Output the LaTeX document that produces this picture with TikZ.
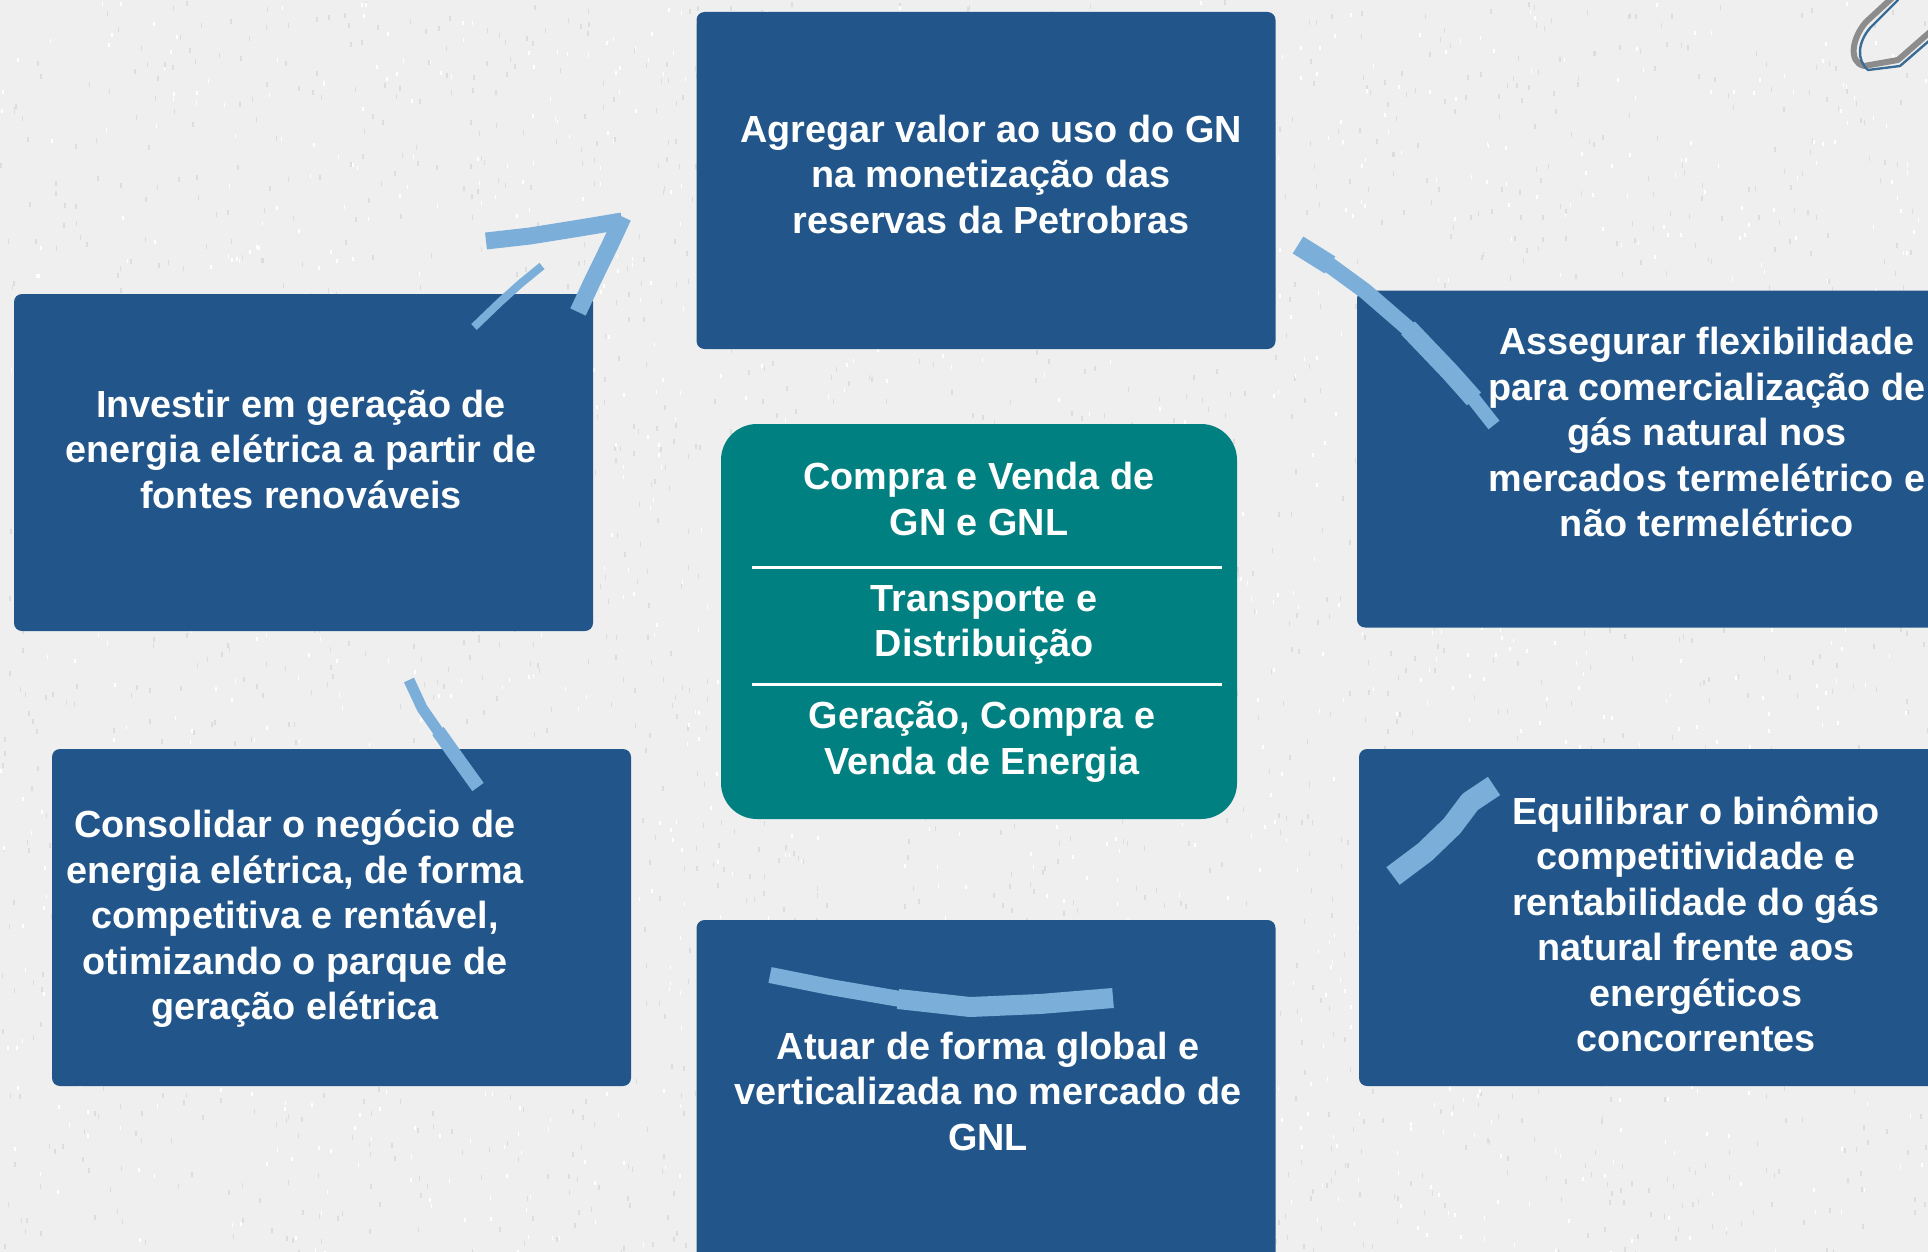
\documentclass[tikz,border=0pt]{standalone}
\usepackage{fontspec}
\setmainfont{Liberation Sans}
\definecolor{boxblue}{HTML}{22568A}
\definecolor{tealbox}{HTML}{008080}
\definecolor{brushcol}{HTML}{7BAFD9}
\definecolor{paper}{HTML}{EFEFEF}
\definecolor{speck}{HTML}{DDDDDD}
\definecolor{hookgray}{HTML}{8C8C8C}
\definecolor{hookblue}{HTML}{3B6C96}
\begin{document}
\begin{tikzpicture}[x=0.5pt,y=-0.5pt,
  bluebox/.style={fill=boxblue, rounded corners=4pt, inner sep=0pt, minimum width=289.5pt, minimum height=168.5pt},
  centerbox/.style={fill=tealbox, rounded corners=18pt, inner sep=0pt, minimum width=258pt, minimum height=197.5pt},
  txt/.style={text=white, font=\bfseries\fontsize{18.9}{22.75}\selectfont, align=center, inner sep=0pt},
  brush/.style={draw=brushcol, line cap=butt, line join=round},
  sepline/.style={draw=white, line width=1.5pt}]
\useasboundingbox (0,0) rectangle (1928,1252);
\fill[paper] (0,0) rectangle (1928,1252);
\pgfmathsetseed{7}
\foreach \i in {1,...,2600}{
  \pgfmathsetmacro\xx{rnd*1928}
  \pgfmathsetmacro\yy{rnd*1252}
  \fill[speck] (\xx,\yy) rectangle ++(1.5,5);
}
\foreach \i in {1,...,1600}{
  \pgfmathsetmacro\xx{rnd*1928}
  \pgfmathsetmacro\yy{rnd*1252}
  \fill[white] (\xx,\yy) rectangle ++(1.5,4);
}
% boxes
\node[bluebox] (top) at (986,180.5) {};
\node[bluebox] (leftup) at (303.5,462.5) {};
\node[bluebox, minimum width=292pt] (rightup) at (1649,459) {};
\node[bluebox] (leftlow) at (341.5,917.5) {};
\node[bluebox, minimum width=292pt] (rightlow) at (1651,917.5) {};
\node[bluebox, minimum height=172pt] (bottom) at (986,1092) {};
\node[centerbox] (center) at (979,621.5) {};
% texts
\node[txt] (ttop) at (991,174) {Agregar valor ao uso do GN\\na monetização das\\reservas da Petrobras};
\node[txt] (tleftup) at (301,449) {Investir em geração de\\energia elétrica a partir de\\fontes renováveis};
\node[txt] (trightup) at (1707,432) {Assegurar flexibilidade\\para comercialização de\\gás natural nos\\mercados termelétrico e\\não termelétrico};
\node[txt] (tleftlow) at (295,919) {Consolidar o negócio de\\energia elétrica, de forma\\competitiva e rentável,\\otimizando o parque de\\geração elétrica};
\node[txt] (trightlow) at (1696,924) {Equilibrar o binômio\\competitividade e\\rentabilidade do gás\\natural frente aos\\energéticos\\concorrentes};
\node[txt] (tbottom) at (988,1091) {Atuar de forma global e\\verticalizada no mercado de\\GNL};
\node[txt] (c1) at (979,499) {Compra e Venda de\\GN e GNL};
\node[txt] (c2) at (984,625) {Transporte e\\Distribuição};
\node[txt] (c3) at (982,742) {Geração, Compra e\\Venda de Energia};
\draw[sepline] (752,567) -- (1222,567);
\draw[sepline] (752,684) -- (1222,684);
% brush strokes
\draw[brush, line width=8.5pt] (486,241) -- (530,236) -- (580,228) -- (622,221);
\draw[brush, line width=8.5pt] (623,217) -- (610,245) -- (592,282) -- (578,312);
\draw[brush, line width=4pt] (474,327) -- (500,302) -- (520,284) -- (542,266);
\draw[brush, line width=10pt] (1298,245) -- (1330,265);
\draw[brush, line width=8pt] (1328,264) -- (1365,291) -- (1410,330);
\draw[brush, line width=9.5pt] (1408,328) -- (1450,372) -- (1474,399);
\draw[brush, line width=7pt] (1472,397) -- (1494,425);
\draw[brush, line width=5.5pt] (409,680) -- (422,708) -- (440,734);
\draw[brush, line width=7pt] (438,731) -- (460,762) -- (478,787);
\draw[brush, line width=11pt] (1393,876) -- (1425,852) -- (1452,826) -- (1470,802) -- (1494,786);
\draw[brush, line width=8pt] (770,975) -- (830,987) -- (900,999);
\draw[brush, line width=10pt] (898,999) -- (970,1007) -- (1040,1004) -- (1113,998);
% hook at top right
\draw[hookgray, line width=3pt, line cap=round, line join=round] (1892,-2) -- (1866,22) .. controls (1852,38) and (1848,62) .. (1864,66) -- (1898,60) -- (1930,32);
\draw[hookblue, line width=1.2pt, line cap=round, line join=round] (1898,0) -- (1870,28) .. controls (1858,42) and (1856,60) .. (1868,70) -- (1900,66) -- (1930,40);
\end{tikzpicture}
\end{document}
